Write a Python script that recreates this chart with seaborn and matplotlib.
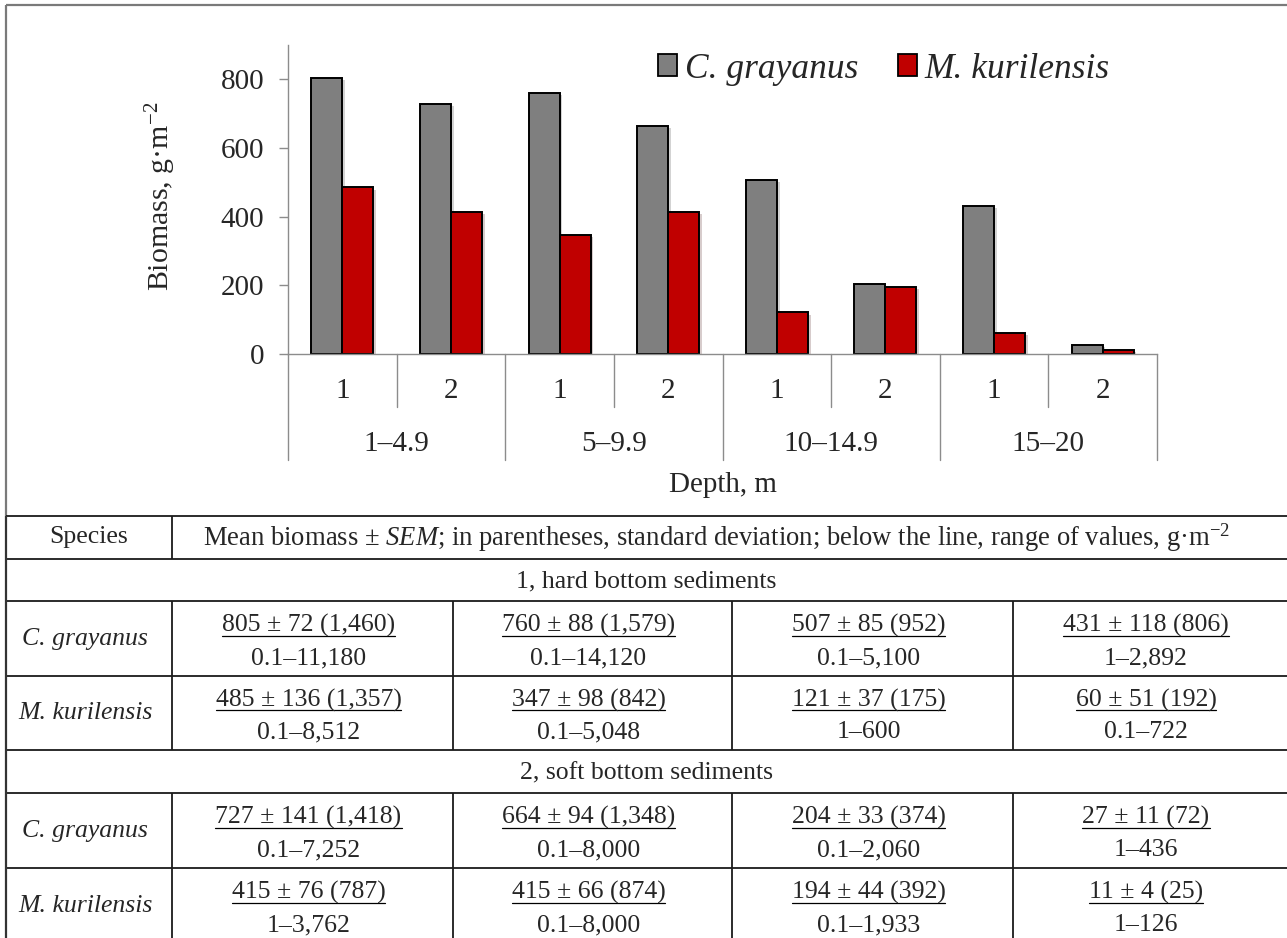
import matplotlib
matplotlib.use("Agg")
import matplotlib.pyplot as plt
import matplotlib.patheffects as pe
from matplotlib.patches import Patch
from matplotlib.lines import Line2D
import matplotlib.transforms as mtransforms
import seaborn as sns
import pandas as pd

# ---- data -------------------------------------------------------------
depth_ranges = ["1–4.9", "5–9.9", "10–14.9", "15–20"]
bottom_types = ["1", "2"]
species = ["C. grayanus", "M. kurilensis"]
section_titles = ["1, hard bottom sediments", "2, soft bottom sediments"]

# hard bottom (1)
cg_hard_mean = [805, 760, 507, 431]
cg_hard_sem = [72, 88, 85, 118]
cg_hard_sd = [1460, 1579, 952, 806]
cg_hard_range = ["0.1–11,180", "0.1–14,120", "0.1–5,100", "1–2,892"]

mk_hard_mean = [485, 347, 121, 60]
mk_hard_sem = [136, 98, 37, 51]
mk_hard_sd = [1357, 842, 175, 192]
mk_hard_range = ["0.1–8,512", "0.1–5,048", "1–600", "0.1–722"]

# soft bottom (2)
cg_soft_mean = [727, 664, 204, 27]
cg_soft_sem = [141, 94, 33, 11]
cg_soft_sd = [1418, 1348, 374, 72]
cg_soft_range = ["0.1–7,252", "0.1–8,000", "0.1–2,060", "1–436"]

mk_soft_mean = [415, 415, 194, 11]
mk_soft_sem = [76, 66, 44, 4]
mk_soft_sd = [787, 874, 392, 25]
mk_soft_range = ["1–3,762", "0.1–8,000", "0.1–1,933", "1–126"]

colors = ["#7F7F7F", "#C00000"]

# ---- style ------------------------------------------------------------
sns.set_theme(style="white")
plt.rcParams["font.family"] = ["Liberation Serif", "DejaVu Serif"]
plt.rcParams["mathtext.fontset"] = "custom"
plt.rcParams["mathtext.rm"] = "Liberation Serif"
plt.rcParams["mathtext.it"] = "Liberation Serif:italic"

W, H = 1287, 938
fig = plt.figure(figsize=(W / 100, H / 100), dpi=100)

# background axes in pixel units for the frame and the table
bg = fig.add_axes([0, 0, 1, 1])
bg.set_xlim(0, W)
bg.set_ylim(H, 0)
bg.axis("off")

# ---- long-form table for the bar chart --------------------------------
rows = []
means = {
    ("C. grayanus", "1"): cg_hard_mean,
    ("C. grayanus", "2"): cg_soft_mean,
    ("M. kurilensis", "1"): mk_hard_mean,
    ("M. kurilensis", "2"): mk_soft_mean,
}
order = []
for i, d in enumerate(depth_ranges):
    for b in bottom_types:
        key = f"{d} | {b}"
        order.append(key)
        for sp in species:
            rows.append({"site": key, "species": sp,
                         "biomass": means[(sp, b)][i]})
df = pd.DataFrame(rows)

# ---- bar chart --------------------------------------------------------
fs_chart = 21
ax_l, ax_r, ax_t, ax_b = 288, 1157, 45, 354
ax = fig.add_axes([ax_l / W, 1 - ax_b / H, (ax_r - ax_l) / W, (ax_b - ax_t) / H])
sns.barplot(data=df, x="site", y="biomass", hue="species", order=order,
            hue_order=species, palette=colors, saturation=1, width=0.57,
            edgecolor="black", linewidth=1.4, legend=False, ax=ax)
for p in ax.patches:
    p.set_path_effects([pe.SimplePatchShadow(offset=(2, -1.5), alpha=0.2),
                        pe.Normal()])

ax.set_ylim(0, 900)
ax.set_xlim(-0.5, len(order) - 0.5)
ax.set_yticks([0, 200, 400, 600, 800])
ax.set_xticks([])
ax.set_xlabel("")
ax.set_ylabel("Biomass, g·m$^{-2}$", fontsize=21.5, labelpad=0)
ax.yaxis.set_label_coords(-0.127, 0.51)
axis_grey = "#8C8C8C"
for s in ["top", "right"]:
    ax.spines[s].set_visible(False)
for s in ["left", "bottom"]:
    ax.spines[s].set_color(axis_grey)
    ax.spines[s].set_linewidth(1.0)
ax.tick_params(axis="y", direction="out", length=6.5, width=1.0,
               color=axis_grey, labelsize=fs_chart, pad=10.5, left=True)
ax.set_facecolor("none")

# category labels and separators beneath the axis
px = 1.0 / (ax_b - ax_t)
trans = mtransforms.blended_transform_factory(ax.transData, ax.transAxes)
y_sub, y_grp, y_title = -(391 - ax_b) * px, -(444 - ax_b) * px, -(485 - ax_b) * px
y_minor_end, y_major_end = -(407 - ax_b) * px, -(460 - ax_b) * px
for j, key in enumerate(order):
    ax.text(j, y_sub, key.split(" | ")[1], transform=trans, ha="center",
            va="center", fontsize=fs_chart)
for k in range(len(order) + 1):
    xpos = k - 0.5
    end = y_major_end if k % 2 == 0 else y_minor_end
    ax.add_line(Line2D([xpos, xpos], [0, end], transform=trans,
                       color=axis_grey, lw=1.0, clip_on=False))
for i, d in enumerate(depth_ranges):
    ax.text(2 * i + 0.5, y_grp, d, transform=trans, ha="center",
            va="center", fontsize=fs_chart)
ax.text(0.5, y_title, "Depth, m", transform=ax.transAxes, ha="center",
        va="center", fontsize=fs_chart)

# legend
handles = [Patch(facecolor=c, edgecolor="black", linewidth=1.3) for c in colors]
fig.legend(handles, species, loc="center left",
           bbox_to_anchor=(658 / W, 1 - 69 / H), ncol=2, frameon=False,
           prop={"style": "italic", "size": 25.5}, handlelength=0.55,
           handleheight=0.55, handletextpad=0.22, columnspacing=1.1,
           borderpad=0, borderaxespad=0)

# ---- outer frame ------------------------------------------------------
frame_grey = "#7A7A7A"
bg.plot([6, W], [5.5, 5.5], color=frame_grey, lw=1.6, solid_capstyle="butt")
bg.plot([6, 6], [5.5, 516], color=frame_grey, lw=1.6, solid_capstyle="butt")

# ---- table ------------------------------------------------------------
tl, tr = 6, W
col_x = [tl, 172, 453, 732, 1013, tr]
row_y = [516, 559, 601, 676, 750, 793, 868, 943]
line_kw = dict(color="#1A1A1A", lw=1.3, solid_capstyle="butt")
for y in row_y[:-1]:
    bg.plot([tl, tr], [y, y], **line_kw)
bg.plot([tl, tl], [516, H], color="#333333", lw=1.6, solid_capstyle="butt")
bg.plot([172, 172], [516, 559], **line_kw)
for x in col_x[1:5]:
    bg.plot([x, x], [601, 750], **line_kw)
    bg.plot([x, x], [793, H], **line_kw)

fs_tab = 18.5
bg.text((tl + 172) / 2, 537.5, "Species", ha="center", va="center",
        fontsize=fs_tab)
bg.text(717, 537.5,
        "Mean biomass ± $\\mathit{SEM}$; in parentheses, standard deviation; "
        "below the line, range of values, g·m$^{-2}$",
        ha="center", va="center", fontsize=19.2)

blocks = [
    (section_titles[0], [
        (species[0], cg_hard_mean, cg_hard_sem, cg_hard_sd, cg_hard_range),
        (species[1], mk_hard_mean, mk_hard_sem, mk_hard_sd, mk_hard_range),
    ], (559, 601), [(601, 676), (676, 750)]),
    (section_titles[1], [
        (species[0], cg_soft_mean, cg_soft_sem, cg_soft_sd, cg_soft_range),
        (species[1], mk_soft_mean, mk_soft_sem, mk_soft_sd, mk_soft_range),
    ], (750, 793), [(793, 868), (868, 943)]),
]

top_lines = []
for title, sp_rows, (s0, s1), cells in blocks:
    bg.text((tl + tr) / 2, (s0 + s1) / 2 + 1.5, title, ha="center",
            va="center", fontsize=fs_tab)
    for (name, mean, sem, sd, rng), (r0, r1) in zip(sp_rows, cells):
        cy = (r0 + r1) / 2
        bg.text((tl + 172) / 2 - 4, cy, name, ha="center", va="center",
                fontsize=fs_tab, style="italic")
        for c in range(4):
            cx = (col_x[c + 1] + col_x[c + 2]) / 2 - 4
            t = bg.text(cx, cy - 6.5, f"{mean[c]} ± {sem[c]} ({sd[c]:,})",
                        ha="center", va="baseline", fontsize=fs_tab)
            top_lines.append((t, cy - 6.5))
            bg.text(cx, cy + 25.5, rng[c], ha="center", va="baseline",
                    fontsize=fs_tab)

# underline the first line of every data cell
fig.canvas.draw()
renderer = fig.canvas.get_renderer()
inv = bg.transData.inverted()
for t, base in top_lines:
    bb = t.get_window_extent(renderer)
    (x0, _), (x1, _) = inv.transform([(bb.x0, bb.y0), (bb.x1, bb.y1)])
    bg.plot([x0, x1], [base + 4, base + 4], color="black", lw=0.9)

fig.savefig("out.png", dpi=100)
